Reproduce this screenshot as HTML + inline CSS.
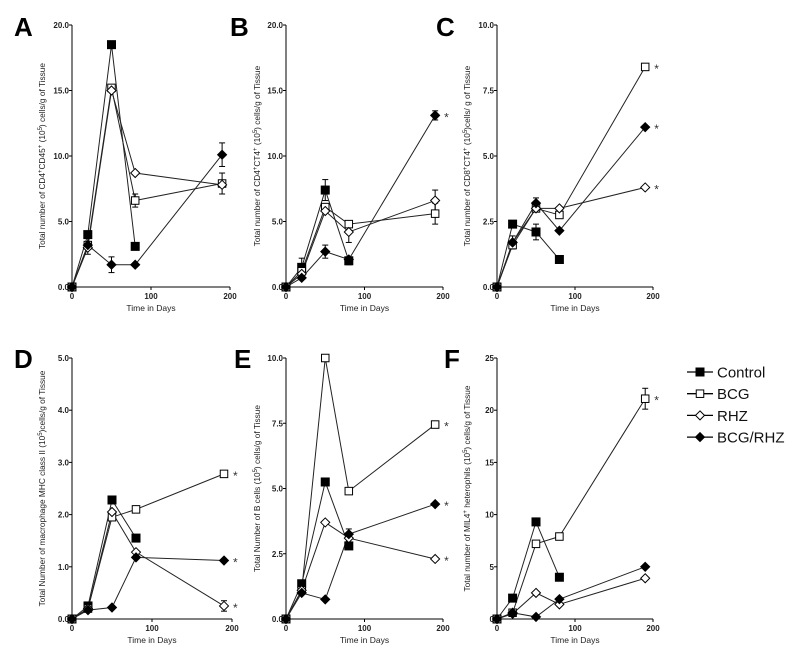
<!DOCTYPE html>
<html><head><meta charset="utf-8"><style>
body{margin:0;background:#fff;}
svg{display:block;font-family:"Liberation Sans",Arial,sans-serif;}
</style></head><body>
<svg id="fig" width="800" height="663" viewBox="0 0 800 663" xmlns="http://www.w3.org/2000/svg"></svg>
<script>
const days = [0, 20, 50, 80, 190];
const groups = ['Control', 'BCG', 'RHZ', 'BCG/RHZ'];
const markerTypes = ['fsq', 'osq', 'odi', 'fdi'];
// Values per panel: [Control, BCG, RHZ, BCG/RHZ] (null = no data)
const valsA = [[0,4.0,18.5,3.1,null],[0,3.2,15.2,6.6,7.9],[0,3.0,15.0,8.7,7.8],[0,3.2,1.7,1.7,10.1]];
const valsB = [[0,1.5,7.4,2.0,null],[0,1.2,6.1,4.8,5.6],[0,1.0,5.8,4.2,6.6],[0,0.7,2.7,2.1,13.1]];
const valsC = [[0,2.4,2.1,1.05,null],[0,1.6,3.0,2.75,8.4],[0,1.7,3.0,3.0,3.8],[0,1.7,3.2,2.15,6.1]];
const valsD = [[0,0.25,2.28,1.55,null],[0,0.2,1.95,2.1,2.78],[0,0.2,2.05,1.28,0.25],[0,0.17,0.22,1.18,1.12]];
const valsE = [[0,1.35,5.25,2.8,null],[0,1.1,10.0,4.9,7.45],[0,1.1,3.7,3.1,2.3],[0,1.0,0.75,3.25,4.4]];
const valsF = [[0,2.0,9.3,4.0,null],[0,0.6,7.2,7.9,21.1],[0,0.5,2.5,1.4,3.9],[0,0.6,0.2,1.9,5.0]];
// Error bars: [group, dayIndex, halfwidth]
const errA = [[1,1,0.7],[3,2,0.6],[1,3,0.5],[3,4,0.9],[1,4,0.8]];
const errB = [[0,2,0.8],[3,2,0.5],[2,3,0.8],[0,3,0.3],[3,4,0.35],[2,4,0.8],[1,4,0.8],[0,1,0.7]];
const errC = [[2,1,0.25],[0,2,0.3],[3,2,0.2]];
const errD = [[2,4,0.1]];
const errE = [[3,3,0.2]];
const errF = [[1,4,1.0]];
const ticksA = ['0.0','5.0','10.0','15.0','20.0'];
const ticksC = ['0.0','2.5','5.0','7.5','10.0'];
const ticksD = ['0.0','1.0','2.0','3.0','4.0','5.0'];
const ticksF = ['0','5','10','15','20','25'];
const xTicks = ['0','100','200'];
const starsA = [];
const starsB = [3];
const starsC = [1,2,3];
const starsD = [1,2,3];
const starsE = [1,2,3];
const starsF = [1];

const NS = 'http://www.w3.org/2000/svg';
const svg = document.getElementById('fig');
function mk(tag, attrs, parent, text){
  const e = document.createElementNS(NS, tag);
  for (const k in attrs) e.setAttribute(k, attrs[k]);
  if (text !== undefined) e.textContent = text;
  (parent || svg).appendChild(e);
  return e;
}
function marker(g, type, x, y){
  let e;
  if (type === 'fsq' || type === 'osq'){
    const s = type === 'fsq' ? 8 : 7.5;
    e = mk('rect', {x:x-s/2, y:y-s/2, width:s, height:s, fill: type==='fsq'?'#000':'#fff', stroke:'#000', 'stroke-width':1}, g);
  } else {
    const r = type === 'fdi' ? 4.5 : 4.5;
    e = mk('polygon', {points:`${x},${y-r} ${x+r},${y} ${x},${y+r} ${x-r},${y}`, fill: type==='fdi'?'#000':'#fff', stroke:'#000', 'stroke-width':1}, g);
  }
  return e;
}
function panel(cfg){
  const {id, letter, lx, ly, ax, x200, top, bot, ymax, ticks, vals, err, stars, title, titleX} = cfg;
  const g = mk('g', {});
  
  
  const X = d => ax + d * (x200 - ax) / 200;
  const Y = v => bot - v * (bot - top) / ymax;
  const L = mk('text', {x:lx, y:ly, 'font-size':26, 'font-weight':'bold', fill:'#000'}, g, letter);
  
  
  // axes
  mk('line', {x1:ax, y1:top, x2:ax, y2:bot, stroke:'#000', 'stroke-width':1}, g);
  mk('line', {x1:ax, y1:bot, x2:x200, y2:bot, stroke:'#000', 'stroke-width':1}, g);
  ticks.forEach((t, i) => {
    const v = ymax * i / (ticks.length - 1);
    mk('line', {x1:ax-3, y1:Y(v), x2:ax, y2:Y(v), stroke:'#000'}, g);
    const tt = mk('text', {x:ax-3, y:Y(v)+3, 'font-size':8, 'font-weight':'bold', 'text-anchor':'end', fill:'#222'}, g, t);
    
    
  });
  xTicks.forEach(t => {
    const x = X(+t);
    mk('line', {x1:x, y1:bot, x2:x, y2:bot+3, stroke:'#000'}, g);
    const tt = mk('text', {x:x, y:bot+12, 'font-size':8, 'font-weight':'bold', 'text-anchor':'middle', fill:'#222'}, g, t);
    
    
  });
  const xt = mk('text', {x:(ax+x200)/2, y:bot+24, 'font-size':8.5, 'text-anchor':'middle', fill:'#222'}, g, 'Time in Days');
  
  
  const yt = mk('text', {x:0, y:0, 'font-size':8.3, 'text-anchor':'middle', fill:'#222', transform:`translate(${titleX},${(top+bot)/2}) rotate(-90)`}, g);
  yt.innerHTML = title;
  
  
  // series
  vals.forEach((series, gi) => {
    const pts = [];
    series.forEach((v, i) => { if (v !== null) pts.push([X(days[i]), Y(v)]); });
    const ln = mk('polyline', {points: pts.map(p => p.join(',')).join(' '), fill:'none', stroke:'#222', 'stroke-width':1}, g);
    
    
  });
  err.forEach(([gi, di, h]) => {
    const v = vals[gi][di], x = X(days[di]);
    mk('line', {x1:x, y1:Y(v+h), x2:x, y2:Y(v-h), stroke:'#000'}, g);
    mk('line', {x1:x-3, y1:Y(v+h), x2:x+3, y2:Y(v+h), stroke:'#000'}, g);
    mk('line', {x1:x-3, y1:Y(v-h), x2:x+3, y2:Y(v-h), stroke:'#000'}, g);
  });
  vals.forEach((series, gi) => {
    series.forEach((v, i) => {
      if (v === null) return;
      const m = marker(g, markerTypes[gi], X(days[i]), Y(v));
      
      
    });
  });
  stars.forEach(gi => {
    const v = vals[gi][4];
    const s = mk('text', {x:X(190)+9, y:Y(v)+6, 'font-size':12, fill:'#333'}, g, '*');
    
    
  });
}
const sup = t => `<tspan baseline-shift="super" font-size="6">${t}</tspan>`;
panel({id:'a', letter:'A', lx:14, ly:36, ax:72, x200:230, top:25, bot:287, ymax:20, ticks:ticksA, vals:valsA, err:errA, stars:starsA, titleX:45,
  title:`Total number of CD4${sup('+')}CD45${sup('+')} (10${sup('5')}) cells/g of Tissue`});
panel({id:'b', letter:'B', lx:230, ly:36, ax:286, x200:443, top:25, bot:287, ymax:20, ticks:ticksA, vals:valsB, err:errB, stars:starsB, titleX:260,
  title:`Total number of CD4${sup('+')}CT4${sup('+')} (10${sup('5')}) cells/g of Tissue`});
panel({id:'c', letter:'C', lx:436, ly:36, ax:497, x200:653, top:25, bot:287, ymax:10, ticks:ticksC, vals:valsC, err:errC, stars:starsC, titleX:470,
  title:`Total number of CD8${sup('+')}CT4${sup('+')} (10${sup('5')})cells/ g of Tissue`});
panel({id:'d', letter:'D', lx:14, ly:368, ax:72, x200:232, top:358, bot:619, ymax:5, ticks:ticksD, vals:valsD, err:errD, stars:starsD, titleX:45,
  title:`Total Number of macrophage MHC class II (10${sup('5')})cells/g of Tissue`});
panel({id:'e', letter:'E', lx:234, ly:368, ax:286, x200:443, top:358, bot:619, ymax:10, ticks:ticksC, vals:valsE, err:errE, stars:starsE, titleX:260,
  title:`Total Number of B cells (10${sup('5')}) cells/g of Tissue`});
panel({id:'f', letter:'F', lx:444, ly:368, ax:497, x200:653, top:358, bot:619, ymax:25, ticks:ticksF, vals:valsF, err:errF, stars:starsF, titleX:470,
  title:`Total number of MIL4${sup('+')} heterophils (10${sup('5')}) cells/g of Tissue`});

// legend
const lg = mk('g', {});


groups.forEach((name, gi) => {
  const y = 372 + gi * 21.7;
  const e = mk('g', {}, lg);
  
  
  mk('line', {x1:687, y1:y, x2:713, y2:y, stroke:'#000', 'stroke-width':1.3}, e);
  marker(e, markerTypes[gi], 700, y);
  mk('text', {x:717, y:y+5.5, 'font-size':15, fill:'#111'}, e, name);
});
</script>
</body></html>
